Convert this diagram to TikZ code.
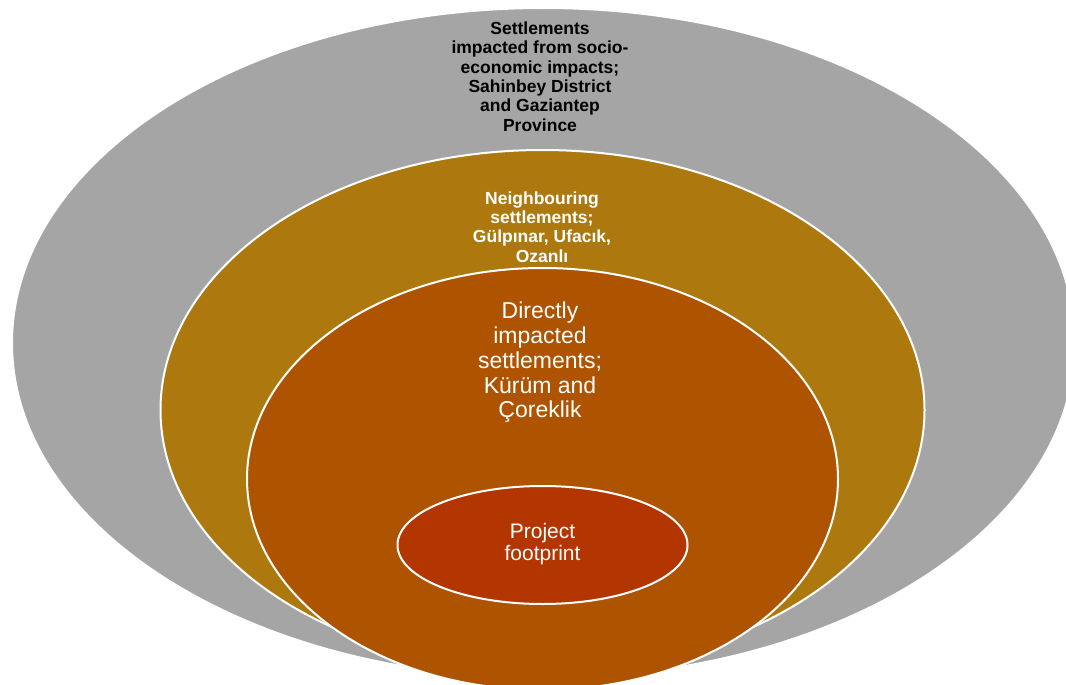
\documentclass[tikz,border=0pt]{standalone}
\usepackage{fontspec}
\setmainfont{Liberation Sans}
\usetikzlibrary{shapes.geometric}
\definecolor{ringgray}{HTML}{A5A5A5}
\definecolor{ringgold}{HTML}{AD790F}
\definecolor{ringorange}{HTML}{AE5300}
\definecolor{ringred}{HTML}{B33500}
\tikzset{
  ring/.style={ellipse, draw=white, line width=2pt, inner sep=0pt, outer sep=0pt},
  boldlabel/.style={align=center, font=\bfseries\fontsize{17.5}{19.4}\selectfont},
  plainlabel/.style={align=center, text=white}
}
\begin{document}
\begin{tikzpicture}[x=1pt,y=-1pt]
\useasboundingbox (0,0) rectangle (1066,685);
\clip (0,0) rectangle (1066,685);
\node[ring, fill=ringgray, minimum width=1063pt, minimum height=670pt] (outer) at (543.5,343) {};
\node[ring, fill=ringgold, minimum width=764pt, minimum height=520pt] (neigh) at (542.5,410) {};
\node[ring, fill=ringorange, minimum width=591pt, minimum height=422pt] (direct) at (542.5,479) {};
\node[ring, fill=ringred, minimum width=290pt, minimum height=118pt] (foot) at (542.5,545) {};
\node[boldlabel, text=black] (outerlbl) at (540,76.5) {Settlements\\impacted from socio-\\economic impacts;\\Sahinbey District\\and Gaziantep\\Province};
\node[boldlabel, text=white] (neighlbl) at (542,227) {Neighbouring\\settlements;\\Gülpınar, Ufacık,\\Ozanlı};
\node[plainlabel, font=\fontsize{23}{24.7}\selectfont] (directlbl) at (540,362.5) {Directly\\impacted\\settlements;\\Kürüm and\\Çoreklik};
\node[plainlabel, font=\fontsize{21}{22}\selectfont] (footlbl) at (542.5,544) {Project\\footprint};
\end{tikzpicture}
\end{document}
